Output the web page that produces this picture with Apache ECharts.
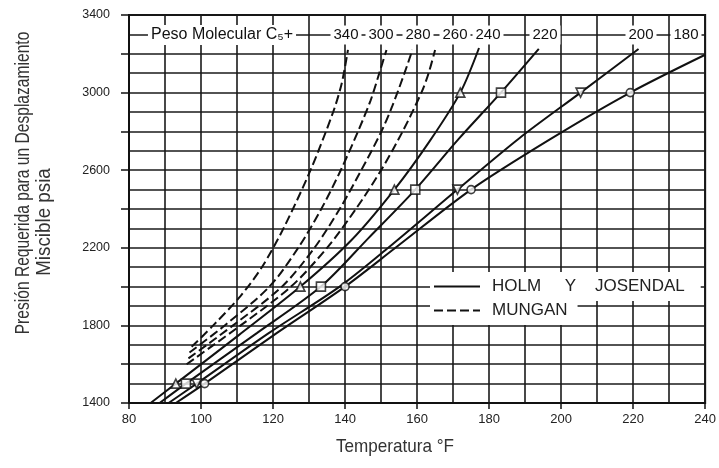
<!DOCTYPE html>
<html><head><meta charset="utf-8">
<script src="https://cdn.jsdelivr.net/npm/echarts@6/dist/echarts.min.js"></script>
<style>html,body{margin:0;padding:0;background:#fff}#c{width:719px;height:468px}</style>
</head><body><div id="c"></div>
<script>
// Holm y Josendal curves (solid), [Temperatura °F, Presión psia]
const holm240 = [[86,1400],[93,1500],[110.5,1750],[127.6,2000],[141.8,2240],[153.7,2500],[163.5,2750],[172,3000],[177.2,3230]];
const holm220 = [[88.5,1400],[95.8,1500],[115.5,1760],[133.3,2000],[146.5,2250],[159.5,2500],[171.5,2760],[183.3,3000],[193.8,3225]];
const holm200 = [[91,1400],[98.8,1500],[118.8,1760],[138.5,2000],[152,2200],[171.2,2500],[188.4,2765],[205.4,3000],[221.5,3225]];
const holm180 = [[93,1400],[101,1500],[121,1760],[140,2000],[154,2200],[175,2500],[197,2760],[219.2,3000],[240,3195]];
// Holm markers
const mark240 = [[93,1500],[127.6,2000],[153.7,2500],[172,3000]];
const mark220 = [[95.8,1500],[133.3,2000],[159.5,2500],[183.3,3000]];
const mark200 = [[98.8,1500],[171.2,2500],[205.4,3000]];
const mark180 = [[101,1500],[140,2000],[175,2500],[219.2,3000]];
// Mungan curves (dashed)
const mungan340 = [[97.4,1690],[103.4,1800],[110.9,1950],[116.9,2100],[122.9,2300],[130.4,2600],[136.7,2900],[139.1,3050],[140.8,3220]];
const mungan300 = [[96.8,1660],[106.6,1800],[119,2000],[127,2200],[133.4,2400],[138.8,2600],[143.6,2800],[147.1,2960],[149.5,3100],[151.5,3220]];
const mungan280 = [[96.5,1630],[108.9,1800],[122.5,2000],[131.5,2200],[138.5,2400],[144.5,2600],[150.1,2800],[153.1,2930],[156.5,3100],[158.7,3220]];
const mungan260 = [[96,1600],[111,1800],[125,2000],[135,2200],[143,2400],[150,2600],[156,2800],[161.2,3000],[163.2,3100],[165,3220]];
// Labels
const mwLabels = ['340','300','280','260','240','220','200','180'];
const holmName = 'HOLM     Y    JOSENDAL';
const munganName = 'MUNGAN';

const chart = echarts.init(document.getElementById('c'), null, {renderer:'canvas'});
const FONT = '"Liberation Sans", Arial, sans-serif';
const gridLine = {color:'#1a1a1a', width:1.6};

function solid(data){ return {type:'line', name:holmName, data, smooth:0.3, symbol:'none', color:'#111', lineStyle:{color:'#111', width:2, type:'solid'}, z:3}; }
function dashed(data){ return {type:'line', name:munganName, data, smooth:0.3, symbol:'none', color:'#111', lineStyle:{color:'#111', width:2, type:[9,4]}, z:3}; }
function marks(data, sym, rot){ return {type:'scatter', name:'m', data, symbol:sym, symbolRotate:rot||0, symbolSize: sym==='circle'?8:9, itemStyle:{color:'#fff', borderColor:'#111', borderWidth:1.6}, z:5}; }

const mwX = [346,381,418,455,488,545,641,686];
const graphics = [
  {type:'text', x:23, y:183, rotation:Math.PI/2, scaleX:0.78, z:20, style:{text:'Presión Requerida para un Desplazamiento', font:'20px '+FONT, fill:'#333', align:'center', verticalAlign:'middle'}},
  {type:'text', x:44, y:222, rotation:Math.PI/2, scaleX:0.94, z:20, style:{text:'Miscible psia', font:'20px '+FONT, fill:'#333', align:'center', verticalAlign:'middle'}},
  {type:'text', x:395, y:447, scaleX:0.9, z:20, style:{text:'Temperatura °F', font:'19px '+FONT, fill:'#333', align:'center', verticalAlign:'middle'}},
  {type:'text', x:222, y:35, z:20, style:{text:'Peso Molecular C₅+', font:'16px '+FONT, fill:'#111', align:'center', verticalAlign:'middle', backgroundColor:'#fff', padding:[2,3]}}
];
mwLabels.forEach((t,i)=>graphics.push({type:'text', x:mwX[i], y:35, z:20, style:{text:t, font:'15px '+FONT, fill:'#111', align:'center', verticalAlign:'middle', backgroundColor:'#fff', padding:[2,3]}}));

const legendCommon = {left:430, orient:'vertical', itemWidth:46, itemHeight:14, backgroundColor:'#fff', selectedMode:false, z:10,
  itemStyle:{color:'rgba(0,0,0,0)', borderColor:'rgba(0,0,0,0)', borderWidth:0},
  textStyle:{fontSize:17, fontFamily:FONT, color:'#222', padding:[0,0,0,7]}};

chart.setOption({
  animation:false,
  backgroundColor:'#fff',
  grid:{left:129, right:8, top:15, bottom:65, show:true, borderColor:'#111', borderWidth:2},
  xAxis:{type:'value', min:80, max:240, interval:20,
    axisLine:{lineStyle:{color:'#111', width:2}},
    axisTick:{show:true, length:6, lineStyle:{color:'#111', width:1.5}},
    axisLabel:{color:'#222', fontSize:13, fontFamily:FONT, margin:10},
    splitLine:{show:true, lineStyle:gridLine},
    minorTick:{show:false, splitNumber:2},
    minorSplitLine:{show:true, lineStyle:gridLine}},
  yAxis:{type:'value', min:1400, max:3400, interval:200,
    axisLine:{show:true, lineStyle:{color:'#111', width:2}},
    axisTick:{show:true, length:8, lineStyle:{color:'#111', width:1.5}},
    axisLabel:{color:'#222', fontSize:12.5, fontFamily:FONT, margin:19, formatter:v=>((v-1400)%400===0? String(v):'')},
    splitLine:{show:true, lineStyle:gridLine},
    minorTick:{show:false, splitNumber:2},
    minorSplitLine:{show:true, lineStyle:gridLine}},
  legend:[
    Object.assign({}, legendCommon, {data:[holmName], top:272, padding:[6,16,6,3]}),
    Object.assign({}, legendCommon, {data:[munganName], top:296, padding:[6,10,6,3]})
  ],
  graphic:graphics,
  series:[
    solid(holm240), solid(holm220), solid(holm200), solid(holm180),
    dashed(mungan340), dashed(mungan300), dashed(mungan280), dashed(mungan260),
    marks(mark240,'triangle'), marks(mark220,'rect'), marks(mark200,'triangle',180), marks(mark180,'circle')
  ]
});
</script></body></html>
